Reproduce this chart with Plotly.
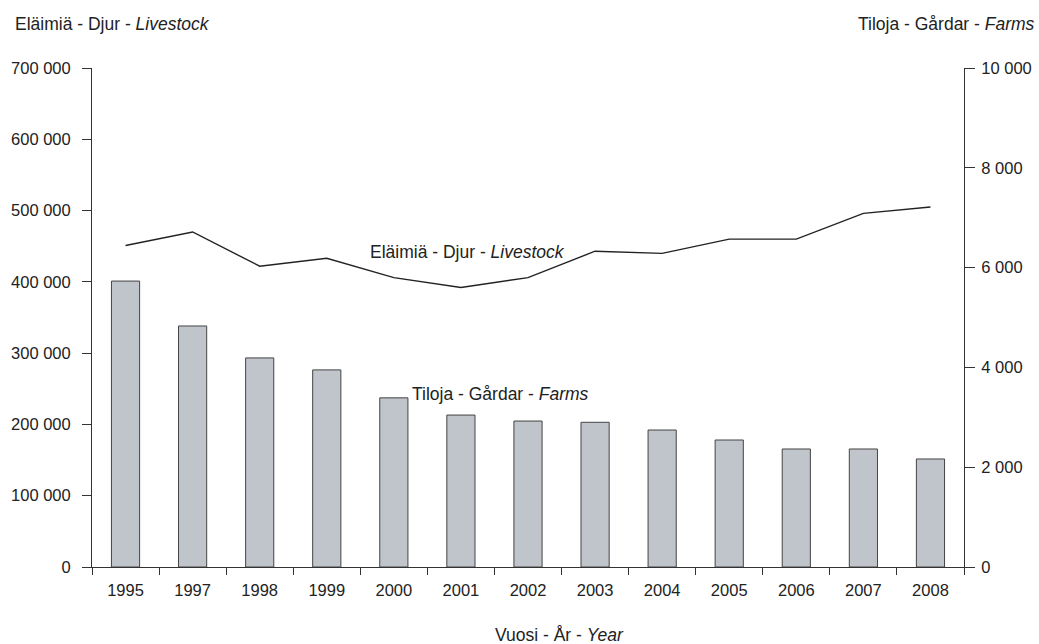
import plotly.graph_objects as go

years = ["1995", "1997", "1998", "1999", "2000", "2001", "2002",
         "2003", "2004", "2005", "2006", "2007", "2008"]
livestock = [451000, 470000, 422000, 433000, 406000, 392000, 406000,
             443000, 440000, 460000, 460000, 496000, 505000]
farms = [5730, 4830, 4190, 3950, 3390, 3045, 2925,
         2900, 2745, 2545, 2365, 2365, 2165]

left_ticks = [0, 100000, 200000, 300000, 400000, 500000, 600000, 700000]
left_labels = ["0", "100 000", "200 000", "300 000", "400 000", "500 000", "600 000", "700 000"]
right_ticks = [0, 2000, 4000, 6000, 8000, 10000]
right_labels = ["0", "2 000", "4 000", "6 000", "8 000", "10 000"]

font = "Liberation Sans, Arial, sans-serif"
axis_col = "#333333"
txt = 17.5

fig = go.Figure()

fig.add_trace(go.Bar(x=years, y=farms, yaxis="y2", name="Farms",
                     marker=dict(color="#c0c4cb", line=dict(color="#444444", width=1))))
fig.add_trace(go.Scatter(x=years, y=livestock, mode="lines", name="Livestock",
                         line=dict(color="#222222", width=1.4)))

fig.update_layout(
    width=1039, height=644, autosize=False,
    margin=dict(l=92, r=75, t=68, b=77),
    plot_bgcolor="white", paper_bgcolor="white",
    showlegend=False, bargap=0.58,
    font=dict(family=font, size=16.5, color="#222222"),
    xaxis=dict(type="category", showline=True, linecolor=axis_col, linewidth=1,
               ticks="outside", tickson="boundaries", ticklen=7, tickcolor=axis_col,
               ticklabelstandoff=8, showgrid=False, zeroline=False, automargin=False),
    yaxis=dict(range=[0, 700000], tickvals=left_ticks, ticktext=left_labels,
               showline=True, linecolor=axis_col, linewidth=1, ticks="outside",
               ticklen=9, tickcolor=axis_col, ticklabelstandoff=8,
               showgrid=False, zeroline=False, automargin=False),
    yaxis2=dict(range=[0, 10000], tickvals=right_ticks, ticktext=right_labels,
                overlaying="y", side="right", showline=True, linecolor=axis_col,
                linewidth=1, ticks="outside", ticklen=10, tickcolor=axis_col,
                ticklabelstandoff=3, showgrid=False, zeroline=False, automargin=False),
)

# labels inside the plot
fig.add_annotation(x=3.61, y=442000, xref="x", yref="y", xanchor="left", yanchor="middle",
                   text="Eläimiä - Djur - <i>Livestock</i>", showarrow=False, font=dict(size=txt))
fig.add_annotation(x=4.24, y=243000, xref="x", yref="y", xanchor="left", yanchor="middle",
                   text="Tiloja - Gårdar - <i>Farms</i>", showarrow=False, font=dict(size=txt))

# axis titles
fig.add_annotation(x=-0.0906, y=1.0882, xref="paper", yref="paper", xanchor="left",
                   yanchor="middle", text="Eläimiä - Djur - <i>Livestock</i>", showarrow=False,
                   font=dict(size=txt))
fig.add_annotation(x=1.0837, y=1.0882, xref="paper", yref="paper", xanchor="right",
                   yanchor="middle", text="Tiloja - Gårdar - <i>Farms</i>", showarrow=False,
                   font=dict(size=txt))
fig.add_annotation(x=0.5356, y=-0.1363, xref="paper", yref="paper", xanchor="center",
                   yanchor="middle", text="Vuosi - År - <i>Year</i>", showarrow=False,
                   font=dict(size=txt))

# drop the default 8px page margin so the figure fills the window
fig.write_html("out.html", config={"displayModeBar": False},
               post_script="document.body.style.margin='0';")
